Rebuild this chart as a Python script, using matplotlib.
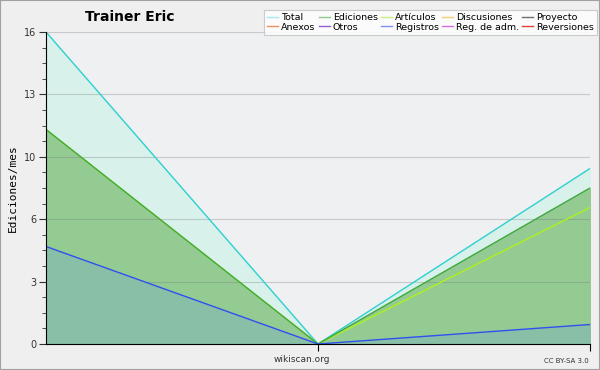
import matplotlib.pyplot as plt
from matplotlib.lines import Line2D
from matplotlib.ticker import FixedLocator, MultipleLocator

# monthly edits, three months
months = [0, 1, 2]
total = [16, 0, 9]
ediciones = [11, 0, 8]
articulos = [11, 0, 7]
registros = [5, 0, 1]

legend_names = ['Total', 'Ediciones', 'Artículos', 'Discusiones', 'Proyecto',
                'Anexos', 'Otros', 'Registros', 'Reg. de adm.', 'Reversiones']
legend_colors = ['#a8e8e8', '#8ccc8c', '#c8f080', '#f0d070', '#707070',
                 '#f09060', '#9060d0', '#8090f0', '#d070e0', '#e04040']

y_ticks = [0, 3.2, 6.4, 9.6, 12.8, 16]
y_labels = ['0', '3', '6', '10', '13', '16']

fig = plt.figure(figsize=(6, 3.7), dpi=100, facecolor='#efefef')
ax = fig.add_axes([46 / 600, 26 / 370, 544 / 600, 312 / 370])
ax.set_facecolor('#eff0f2')

ax.fill_between(months, total, color='#d8f1ea', zorder=1)
ax.fill_between(months, ediciones, color='#93cb93', zorder=2)
ax.fill_between(months, registros, color='#88bfa6', zorder=3)

ax.plot(months, total, color='#30d0d0', lw=1, zorder=5)
ax.plot(months, articulos, color='#b0f020', lw=1, zorder=6)
ax.plot(months, ediciones, color='#40a840', lw=1, zorder=7)
ax.plot(months, registros, color='#3050f0', lw=1, zorder=8)

ax.set_xlim(0, 2)
ax.set_ylim(0, 16)
ax.yaxis.set_major_locator(FixedLocator(y_ticks))
ax.set_yticklabels(y_labels)
ax.yaxis.set_minor_locator(MultipleLocator(0.8))
ax.set_xticks([1, 2])
ax.set_xticklabels([])
ax.tick_params(axis='y', which='major', length=5, labelsize=7, colors='#333333', pad=2)
ax.tick_params(axis='y', which='minor', length=3, color='#333333')
ax.tick_params(axis='x', length=5, direction='out', color='black')
ax.grid(axis='y', color='#707070', alpha=0.3, lw=0.8, zorder=4)
ax.set_axisbelow(False)
for s in ['top', 'right']:
    ax.spines[s].set_visible(False)
ax.spines['left'].set_zorder(10)
ax.spines['bottom'].set_zorder(10)

ax.set_ylabel('Ediciones/mes', fontsize=8, family='DejaVu Sans Mono')
ax.yaxis.set_label_coords(-0.052, 0.5)

fig.text(85 / 600, 1 - 17 / 370, 'Trainer Eric', fontsize=10, fontweight='bold',
         va='center', ha='left')
fig.text(302 / 600, 1 - 360 / 370, 'wikiscan.org', fontsize=6.5, color='#333333',
         ha='center', va='center')
fig.text(589 / 600, 1 - 361 / 370, 'CC BY-SA 3.0', fontsize=5, color='#333333',
         ha='right', va='center')

# legend columns filled row-wise like the original
handles = [Line2D([], [], color=c, lw=1) for c in legend_colors]
order = [0, 5, 1, 6, 2, 7, 3, 8, 4, 9]
leg = fig.legend([handles[i] for i in order], [legend_names[i] for i in order],
                 ncol=5, loc='upper right', bbox_to_anchor=(597 / 600, 1 - 10 / 370),
                 fontsize=6.8, frameon=True, fancybox=False, handlelength=1.2,
                 handletextpad=0.3, columnspacing=0.3, labelspacing=0.05,
                 borderpad=0.35, borderaxespad=0)
leg.get_frame().set_facecolor('white')
leg.get_frame().set_edgecolor('#c0c0c0')
leg.get_frame().set_linewidth(0.8)

# thin grey border around the figure
fig.patches.append(plt.Rectangle((0, 0), 1, 1, transform=fig.transFigure,
                                 fill=False, edgecolor='#a0a0a0', lw=1.5))

fig.savefig('out.png', dpi=100, facecolor=fig.get_facecolor())
